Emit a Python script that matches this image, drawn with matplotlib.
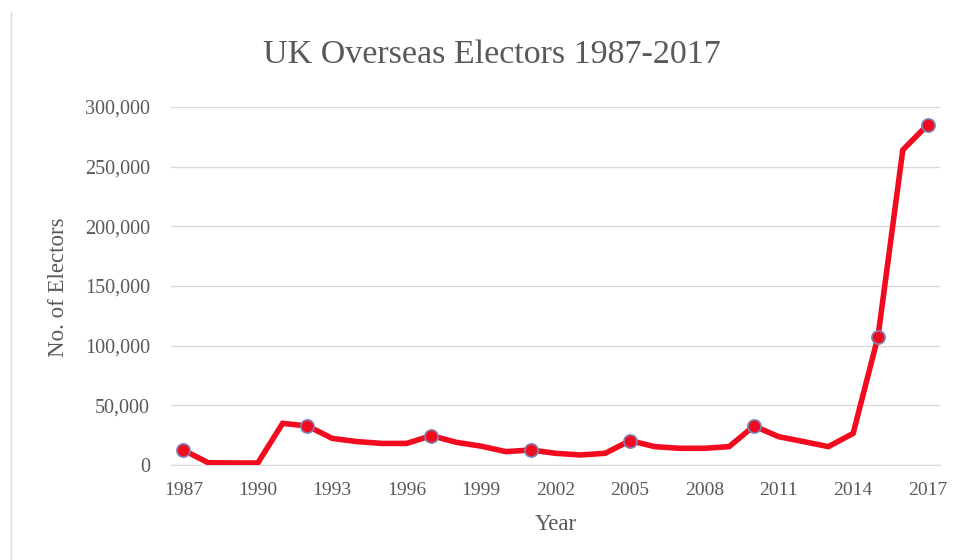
import matplotlib.pyplot as plt
from matplotlib.lines import Line2D

years = list(range(1987, 2018))
electors = [12500, 1900, 1700, 1700, 34900, 32700, 22300, 19600, 18100, 18100,
            24600, 19000, 15800, 11200, 12600, 9800, 8400, 9800, 20400, 15400,
            14000, 14000, 15400, 32700, 23700, 19600, 15400, 26500, 107500, 264000,
            285000]
election_years = [1987, 1992, 1997, 2001, 2005, 2010, 2015, 2017]
tick_years = list(range(1987, 2018, 3))
y_ticks = [0, 50000, 100000, 150000, 200000, 250000, 300000]

grey = '#595959'
plt.rcParams['font.family'] = ['Liberation Serif', 'DejaVu Serif']

fig = plt.figure(figsize=(9.66, 5.6), dpi=100)
ax = fig.add_axes([171/966, 1 - 465/560, (940 - 171)/966, (465 - 107)/560])

marks = [years.index(y) for y in election_years]
ax.plot(years, electors, color='#f20a1e', linewidth=4, solid_joinstyle='miter',
        marker='o', markevery=marks, markersize=9.5, markerfacecolor='#f20a1e',
        markeredgecolor='#7f83b5', markeredgewidth=1.2, zorder=3)

ax.set_xlim(1986.5, 2017.5)
ax.set_ylim(0, 300000)
ax.set_xticks(tick_years)
ax.set_yticks(y_ticks)
ax.set_yticklabels([f'{v:,}' for v in y_ticks])
ax.grid(axis='y', color='#d9d9d9', linewidth=1)
ax.set_axisbelow(True)
for s in ['top', 'right', 'left']:
    ax.spines[s].set_visible(False)
ax.spines['bottom'].set_color('#d9d9d9')
ax.tick_params(axis='y', length=0, labelsize=14.5, colors=grey, pad=15)
ax.tick_params(axis='x', length=0, labelsize=14, colors=grey, pad=12)

fig.text(0.509, 1 - 55/560, 'UK Overseas Electors 1987-2017', ha='center', va='center',
         fontsize=24.5, color=grey)
fig.text(58/966, 1 - 287/560, 'No. of Electors', ha='center', va='center',
         rotation=90, fontsize=16.5, color=grey)
fig.text(556/966, 1 - 524/560, 'Year', ha='center', va='center', fontsize=16.5, color=grey)

fig.add_artist(Line2D([11/966, 11/966], [0, 1 - 12/560], color='#d9d9d9', linewidth=1))

fig.savefig('out.png', dpi=100)
